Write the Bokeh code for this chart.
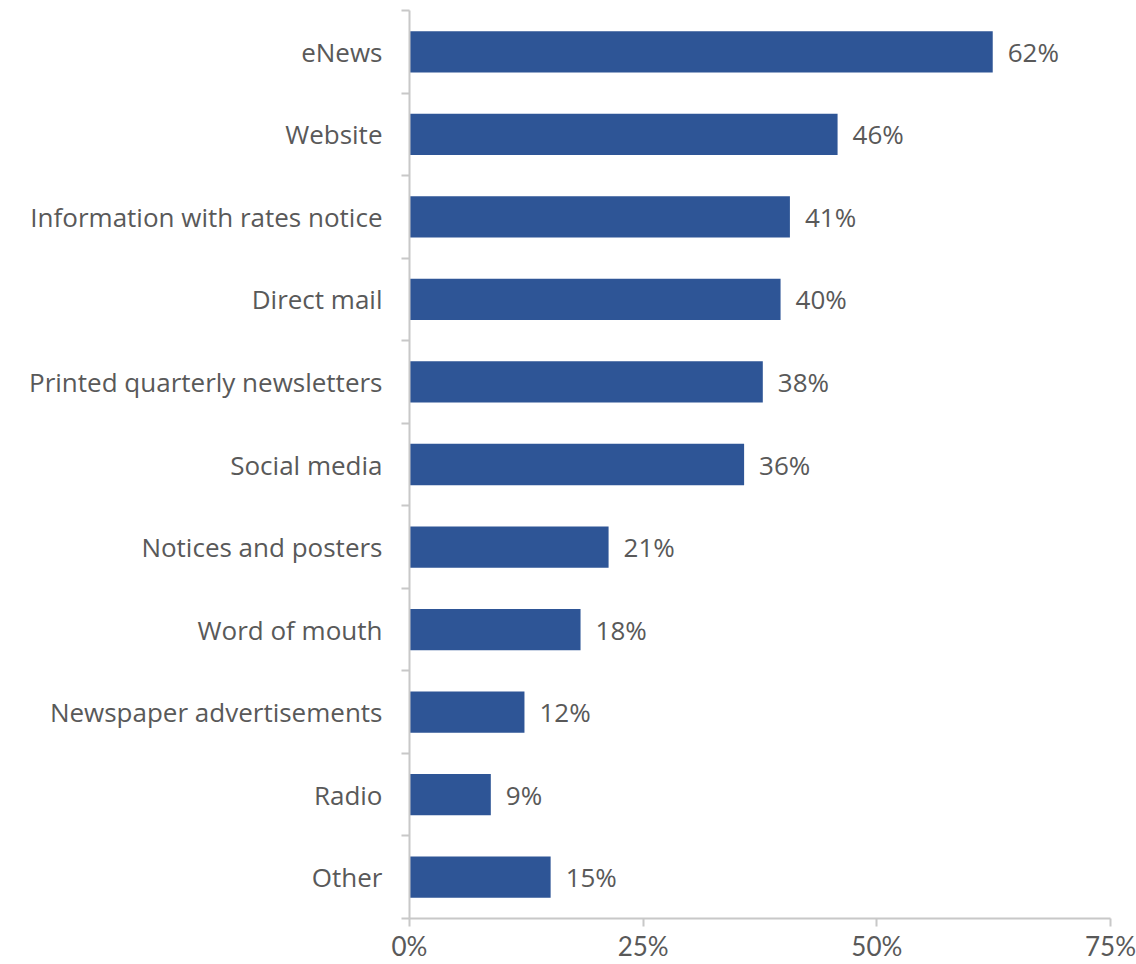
from bokeh.plotting import figure
from bokeh.models import FixedTicker, ColumnDataSource, Range1d
from bokeh.embed import file_html
from bokeh.resources import INLINE
from bokeh.core.properties import value

categories = ["eNews", "Website", "Information with rates notice", "Direct mail",
              "Printed quarterly newsletters", "Social media", "Notices and posters",
              "Word of mouth", "Newspaper advertisements", "Radio", "Other"]
values = [0.624, 0.458, 0.407, 0.397, 0.378, 0.358, 0.213, 0.183, 0.123, 0.087, 0.151]
labels = ["62%", "46%", "41%", "40%", "38%", "36%", "21%", "18%", "12%", "9%", "15%"]
x_ticks = [0, 0.25, 0.5, 0.75]
x_tick_labels = ["0%", "25%", "50%", "75%"]

n = len(categories)
ypos = [n - i - 0.5 for i in range(n)]

FONT = "Open Sans"
XFONT = "Lato"
TXT = "#595959"
AX = "#C8C8C8"
FS = "26px"

src = ColumnDataSource(dict(y=ypos, v=values, lab=labels, cat=categories))

p = figure(width=1136, height=964, output_backend="svg", toolbar_location=None,
           x_range=Range1d(0, 0.75), y_range=Range1d(0, n),
           min_border_left=409, min_border_right=26, min_border_top=10, min_border_bottom=42)
p.outline_line_color = None
p.grid.grid_line_color = None
p.background_fill_color = "white"

p.hbar(y="y", right="v", left=0, height=0.5, source=src, fill_color="#2E5596", line_color=None)
p.text(x="v", y="y", text="lab", source=src, x_offset=15, text_align="left", text_baseline="middle",
       text_font=value(FONT), text_font_size=FS, text_color=TXT)

# y axis: labels at centers, ticks at boundaries (minor)
ya = p.yaxis[0]
ya.ticker = FixedTicker(ticks=ypos, minor_ticks=list(range(n + 1)))
ya.major_label_overrides = {y: c for y, c in zip(ypos, categories)}
ya.major_tick_line_color = None
ya.major_tick_out = 0
ya.major_tick_in = 0
ya.minor_tick_out = 8
ya.minor_tick_in = 0
ya.minor_tick_line_color = AX
ya.minor_tick_line_width = 2
ya.axis_line_color = AX
ya.axis_line_width = 2
ya.major_label_standoff = 19
ya.major_label_text_font = FONT
ya.major_label_text_font_size = FS
ya.major_label_text_color = TXT

xa = p.xaxis[0]
xa.ticker = FixedTicker(ticks=x_ticks, minor_ticks=[])
xa.major_label_overrides = {t: l for t, l in zip(x_ticks, x_tick_labels)}
xa.major_tick_out = 8
xa.major_tick_in = 0
xa.major_tick_line_color = AX
xa.major_tick_line_width = 2
xa.axis_line_color = AX
xa.axis_line_width = 2
xa.major_label_standoff = 3
xa.major_label_text_font = XFONT
xa.major_label_text_font_size = FS
xa.major_label_text_color = TXT

open("out.html", "w").write(file_html(p, INLINE))
